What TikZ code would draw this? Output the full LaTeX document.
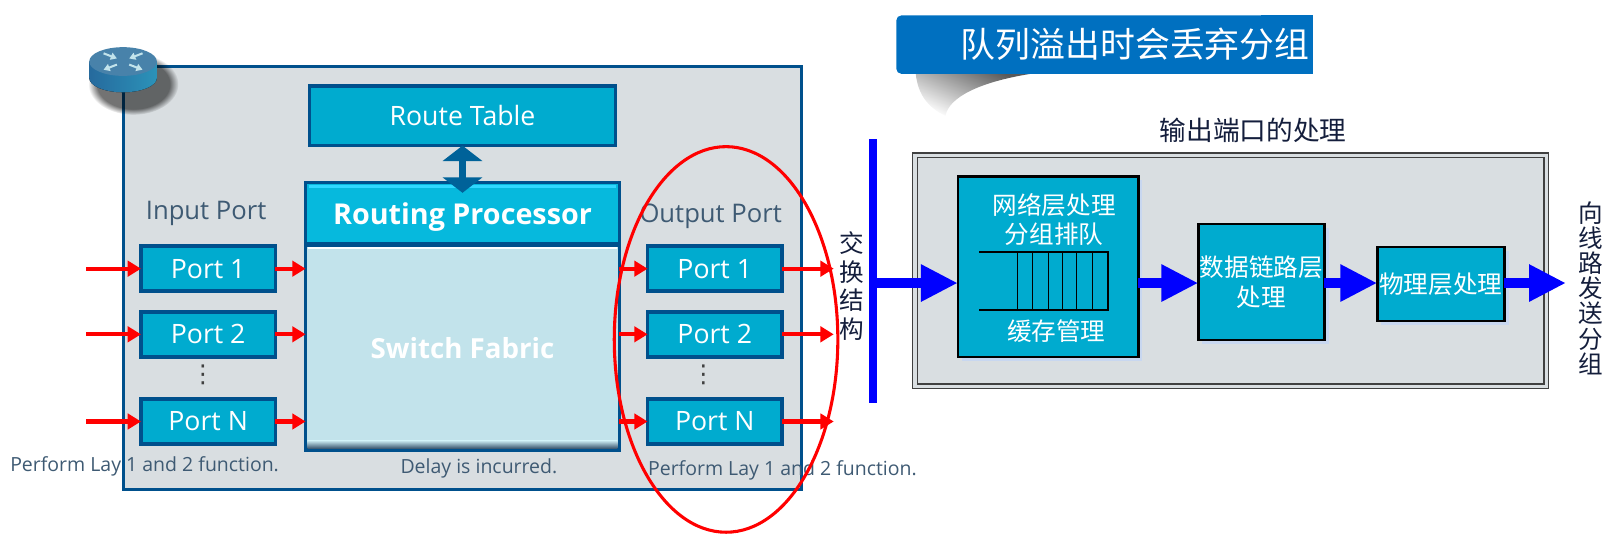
\documentclass[tikz,border=0pt]{standalone}
\usepackage{fontspec}
\setmainfont{Open Sans}
\newfontfamily\cjk{Noto Sans CJK SC}
\usetikzlibrary{arrows.meta,shapes.geometric,shadows,fadings}

\tikzset{
  framebox/.style={draw=kFrame,line width=3pt,fill=kPanel,minimum width=#1,inner sep=0pt,outer sep=0pt},
  portbox/.style={draw=kFrame,line width=3.5pt,fill=kTeal,text=white,minimum width=131pt,minimum height=44pt,inner sep=0pt,outer sep=0pt,font=\fontsize{26}{26}\selectfont},
  stagebox/.style={draw=black,line width=2.5pt,fill=kTeal,text=white,align=center,inner sep=0pt,outer sep=0pt,font=\cjk\fontsize{24}{29}\selectfont,drop shadow={shadow xshift=4pt,shadow yshift=-4pt,fill=kHalo,opacity=1}},
  plaintext/.style={text=kInk,inner sep=0pt,font=\fontsize{19}{19}\selectfont},
  cjktext/.style={text=kNavy,inner sep=0pt,align=center,font=\cjk\fontsize{24}{28}\selectfont},
  redarrow/.style={draw=red,line width=4pt,-{Triangle[length=13pt,width=15pt]}},
  bluearrow/.style={draw=blue,line width=10pt,-{Triangle[length=36pt,width=34pt]}},
}

\begin{document}
\begin{tikzpicture}[x=1pt,y=-1pt]
  \definecolor{kFrame}{RGB}{0,80,140}
  \definecolor{kPanel}{RGB}{217,222,225}
  \definecolor{kTeal}{RGB}{0,171,207}
  \definecolor{kBright}{RGB}{6,185,221}
  \definecolor{kStrip}{RGB}{48,216,255}
  \definecolor{kPale}{RGB}{194,227,235}
  \definecolor{kInk}{RGB}{62,90,115}
  \definecolor{kHalo}{RGB}{200,215,240}
  \definecolor{kTitle}{RGB}{0,112,192}
  \definecolor{kNavy}{RGB}{20,30,60}
  \definecolor{kSteel}{RGB}{72,130,170}

  \useasboundingbox (0,0) rectangle (1569,526.5);

  % router panel
  \node[framebox=662pt,minimum height=412pt] (panel) at (451,271) {};
  \fill[black,opacity=0.55,path fading=circle with fuzzy edge 20 percent] (130,82) circle [x radius=44pt,y radius=30pt];
  \fill[left color=kFrame!85,right color=kTeal!40!kSteel] (87,60) -- (87,76) arc [start angle=180,end angle=360,x radius=33pt,y radius=14pt] -- (153,60) -- cycle;
  \fill[color=kSteel] (120,60) circle [x radius=33pt,y radius=14pt];
  \foreach \a/\b/\c/\d in {101/52/114/57,139/52/126/57,114/63/101/68,126/63/139/68}
  {
    \draw[color=kPale,line width=2pt,-{Triangle[length=6pt,width=7pt]}] (\a,\b) -- (\c,\d);
  }

  % route table and processor
  \node[portbox,minimum width=298pt,minimum height=58pt] (route) at (451,113) {Route Table};
  \node[portbox,fill=kBright,minimum width=306pt,minimum height=60pt] (proc) at (451,208) {};
  \node[text=white,inner sep=0pt,font=\bfseries\fontsize{28}{28}\selectfont] (proctext) at (451,212) {Routing Processor};
  \draw[color=kStrip,line width=3pt] ([xshift=3pt,yshift=-3.5pt]proc.north west) -- ([xshift=-3pt,yshift=-3.5pt]proc.north east);
  \node[portbox,fill=kPale,minimum width=306pt,minimum height=200pt] (fabric) at (451,339) {};
  \node[text=white,inner sep=0pt,font=\bfseries\fontsize{27}{27}\selectfont] (fabrictext) at (451,339) {Switch Fabric};
  \draw[color=white,line width=2pt] ([xshift=2pt,yshift=-3pt]fabric.north west) -- ([xshift=-2pt,yshift=-3pt]fabric.north east);
  \shade[top color=kPale,bottom color=kInk] ([xshift=2pt,yshift=9pt]fabric.south west) rectangle ([xshift=-2pt,yshift=2pt]fabric.south east);
  \draw[draw=kFrame!80!kTeal,line width=6pt,{Triangle[length=15pt,width=38pt]}-{Triangle[length=15pt,width=38pt]},shorten >=-10pt] (route.south) -- (proc.north);

  % ports
  \foreach \name/\y/\txt in {A/262/Port 1,B/326/Port 2,C/411/Port N}
  {
    \node[portbox] (in\name) at (203,\y) {\txt};
    \node[portbox] (out\name) at (697,\y) {\txt};
    \coordinate (src\name) at (84,\y);
    \coordinate (dst\name) at (813,\y);
    \draw[redarrow] (src\name) -- (in\name.west);
    \draw[redarrow] (in\name.east) -- (in\name.east -| fabric.west);
    \draw[redarrow] (out\name.west -| fabric.east) -- (out\name.west);
    \draw[redarrow] (out\name.east) -- (dst\name);
  }
  \node[plaintext,text=black!75] (vdotsin) at (198,366) {\fontspec{DejaVu Sans}\fontsize{24}{24}\selectfont ⋮};
  \node[plaintext,text=black!75] (vdotsout) at (686,366) {\fontspec{DejaVu Sans}\fontsize{24}{24}\selectfont ⋮};

  \node[plaintext,font=\fontsize{25}{25}\selectfont] (inlabel) at (201,208) {Input Port};
  \node[plaintext,font=\fontsize{25}{25}\selectfont] (outlabel) at (693,211) {Output Port};
  \node[plaintext] (innote) at (141,455) {Perform Lay 1 and 2 function.};
  \node[plaintext] (delaynote) at (467,457) {Delay is incurred.};
  \node[plaintext] (outnote) at (763,459) {Perform Lay 1 and 2 function.};

  \node[draw=red,line width=3pt,ellipse,minimum width=218pt,minimum height=376pt,inner sep=0pt] (ring) at (708,331) {};

  % title
  \shade[top color=black!65,bottom color=white,shading angle=-25] (893,72) .. controls (895,92) and (905,105) .. (922,113) .. controls (925,95) and (955,80) .. (1005,72) -- cycle;
  \fill[color=kTitle,rounded corners=5pt] (874,72) -- (874,15) -- (1240,15) -- (1240,72) -- cycle;
  \fill[color=kTitle] (1230,15) rectangle (1280,72);
  \node[text=white,inner sep=0pt,font=\cjk\fontsize{34}{34}\selectfont] (titletext) at (1107,43) {队列溢出时会丢弃分组};

  % output port detail
  \node[cjktext,font=\cjk\fontsize{26}{26}\selectfont] (detailtitle) at (1222,127) {输出端口的处理};
  \node[draw=black!75,line width=1.5pt,fill=kPanel,minimum width=620pt,minimum height=230pt,inner sep=0pt] (outerframe) at (1200,264) {};
  \node[draw=black!75,line width=1.5pt,minimum width=611pt,minimum height=221pt,inner sep=0pt] (innerframe) at (1200,264) {};
  \node[draw=blue,fill=blue,minimum width=6pt,minimum height=256pt,inner sep=0pt,outer sep=0pt] (bus) at (851,264) {};
  \node[cjktext] (buslabel) at (831,279) {交\\换\\结\\构};

  \node[stagebox,minimum width=176pt,minimum height=176pt] (netbox) at (1022,260) {};
  \node[cjktext,text=white] (nettext) at (1028,214) {网络层处理\\分组排队};
  \node[cjktext,text=white] (buftext) at (1030,323) {缓存管理};
  \draw[color=black,line width=2pt] (955,246) -- (1080,246) -- (1080,302) -- (955,302);
  \foreach \x in {992,1007,1022,1036,1050,1065}
  {
    \draw[color=black,line width=1pt] (\x,246) -- (\x,302);
  }
  \node[stagebox,minimum width=123pt,minimum height=113pt] (linkbox) at (1230,275) {数据链路层\\处理};
  \node[stagebox,minimum width=124pt,minimum height=72pt] (phybox) at (1405,277) {物理层处理};

  \coordinate (busport) at (854,276);
  \coordinate (netin) at (934,276);
  \coordinate (netout) at (1110,276);
  \coordinate (wire) at (1527,276);
  \draw[bluearrow] (busport) -- (netin);
  \draw[bluearrow] (netout) -- (netout -| linkbox.west);
  \draw[bluearrow] (netout -| linkbox.east) -- (netout -| phybox.west);
  \draw[bluearrow] (netout -| phybox.east) -- (wire);
  \node[cjktext,font=\cjk\fontsize{24}{24.5}\selectfont] (wirelabel) at (1551,281) {向\\线\\路\\发\\送\\分\\组};
\end{tikzpicture}
\end{document}
